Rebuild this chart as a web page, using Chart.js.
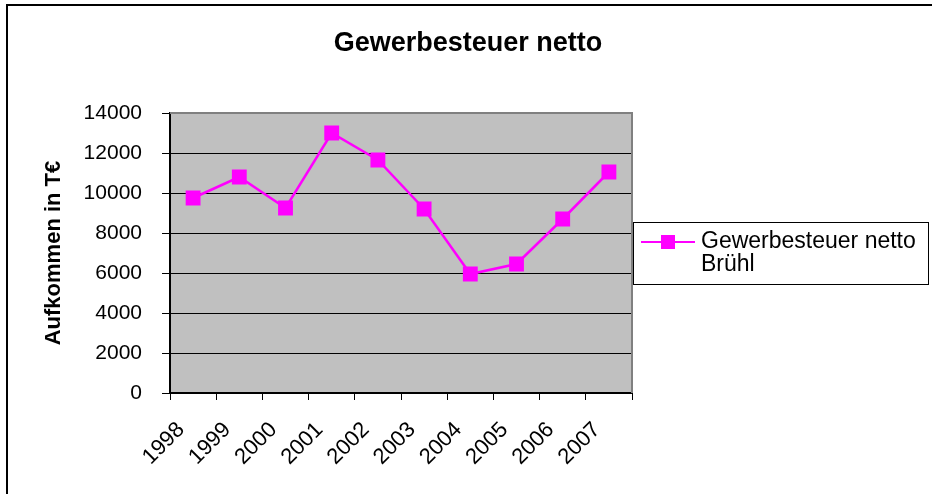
<!DOCTYPE html>
<html>
<head>
<meta charset="utf-8">
<script src="https://cdn.jsdelivr.net/npm/chart.js@4/dist/chart.umd.min.js"></script>
<style>
  html, body { margin: 0; padding: 0; background: #ffffff; }
  #wrap { width: 936px; height: 494px; position: relative; }
</style>
</head>
<body>
<div id="wrap"><canvas id="c" width="936" height="494"></canvas></div>
<script>
const years = ['1998', '1999', '2000', '2001', '2002', '2003', '2004', '2005', '2006', '2007'];
const gewerbesteuer = [9750, 10800, 9250, 13000, 11650, 9200, 5950, 6450, 8700, 11050];
const seriesLabelLines = ['Gewerbesteuer netto', 'Brühl'];
const chartTitle = 'Gewerbesteuer netto';
const yAxisTitle = 'Aufkommen in T€';
const yMin = 0, yMax = 14000, yStep = 2000;

const FONT = '"Liberation Sans", Arial, Helvetica, sans-serif';
const MAGENTA = '#ff00ff';

const decor = {
  id: 'decor',
  beforeDraw(chart) {
    const { ctx, chartArea: a } = chart;
    ctx.save();
    ctx.fillStyle = '#ffffff';
    ctx.fillRect(0, 0, chart.width, chart.height);
    // outer frame (top and left)
    ctx.strokeStyle = '#000000';
    ctx.lineWidth = 2;
    ctx.beginPath();
    ctx.moveTo(7, chart.height);
    ctx.lineTo(7, 5);
    ctx.lineTo(932, 5);
    ctx.stroke();
    // plot area background
    ctx.fillStyle = '#c0c0c0';
    ctx.fillRect(a.left, a.top, a.right - a.left, a.bottom - a.top);
    ctx.restore();
  },
  beforeDatasetsDraw(chart) {
    const { ctx, chartArea: a } = chart;
    ctx.save();
    ctx.strokeStyle = '#808080';
    ctx.lineWidth = 2;
    ctx.beginPath();
    ctx.moveTo(a.left, a.top);
    ctx.lineTo(a.right, a.top);
    ctx.lineTo(a.right, a.bottom);
    ctx.stroke();
    ctx.restore();
  },
  afterDraw(chart) {
    const { ctx, chartArea: a } = chart;
    const ds = chart.data.datasets[0];
    const x0 = a.right + 1, y0 = a.top + 109, w = 295, h = 62;
    ctx.save();
    ctx.fillStyle = '#ffffff';
    ctx.fillRect(x0, y0, w, h);
    ctx.strokeStyle = '#000000';
    ctx.lineWidth = 1;
    ctx.strokeRect(x0 + 0.5, y0 + 0.5, w, h);
    const ly = y0 + 20;
    ctx.strokeStyle = ds.borderColor;
    ctx.lineWidth = 2;
    ctx.beginPath();
    ctx.moveTo(x0 + 8, ly);
    ctx.lineTo(x0 + 62, ly);
    ctx.stroke();
    ctx.fillStyle = ds.pointBackgroundColor;
    ctx.fillRect(x0 + 35 - 7, ly - 7, 14, 14);
    ctx.fillStyle = '#000000';
    ctx.font = '23px ' + FONT;
    ctx.textBaseline = 'middle';
    ctx.textAlign = 'left';
    seriesLabelLines.forEach((t, i) => ctx.fillText(t, x0 + 68, ly + i * 23));
    ctx.restore();
  }
};

new Chart(document.getElementById('c'), {
  type: 'line',
  data: {
    labels: years,
    datasets: [{
      label: seriesLabelLines.join(' '),
      data: gewerbesteuer,
      borderColor: MAGENTA,
      backgroundColor: MAGENTA,
      borderWidth: 2.5,
      pointStyle: 'rect',
      pointRadius: 10.5,
      pointHoverRadius: 10.5,
      pointBackgroundColor: MAGENTA,
      pointBorderColor: MAGENTA,
      pointBorderWidth: 0,
      tension: 0,
      fill: false
    }]
  },
  options: {
    responsive: false,
    animation: false,
    devicePixelRatio: 1,
    layout: { padding: { left: 0, right: 0, top: 0, bottom: 0 } },
    plugins: {
      legend: { display: false },
      tooltip: { enabled: false },
      title: {
        display: true,
        text: chartTitle,
        color: '#000000',
        font: { family: FONT, size: 27, weight: 'bold' },
        padding: { top: 27, bottom: 53.6 }
      }
    },
    scales: {
      x: {
        type: 'category',
        offset: true,
        afterFit(scale) { scale.height = 101; },
        grid: {
          offset: true,
          drawOnChartArea: false,
          drawTicks: true,
          tickLength: 7,
          color: '#000000',
          lineWidth: 1
        },
        border: { display: true, color: '#000000', width: 2 },
        ticks: {
          color: '#000000',
          font: { family: FONT, size: 22 },
          minRotation: 45,
          maxRotation: 45,
          padding: 17,
          labelOffset: -12,
          autoSkip: false
        }
      },
      y: {
        min: yMin,
        max: yMax,
        afterFit(scale) { scale.width = 170; },
        grid: {
          drawOnChartArea: true,
          drawTicks: true,
          tickLength: 8,
          color: '#000000',
          lineWidth: 1
        },
        border: { display: true, color: '#000000', width: 2 },
        ticks: {
          stepSize: yStep,
          color: '#000000',
          font: { family: FONT, size: 21 },
          padding: 20,
          callback: (v) => String(v)
        },
        title: {
          display: true,
          text: yAxisTitle,
          color: '#000000',
          font: { family: FONT, size: 22, weight: 'bold' },
          padding: { top: 41, bottom: 0 }
        }
      },
      legendSpace: {
        type: 'linear',
        position: 'right',
        display: true,
        afterFit(scale) { scale.width = 304; },
        grid: { display: false, drawTicks: false },
        ticks: { display: false },
        border: { display: false }
      }
    }
  },
  plugins: [decor]
});
</script>
</body>
</html>
